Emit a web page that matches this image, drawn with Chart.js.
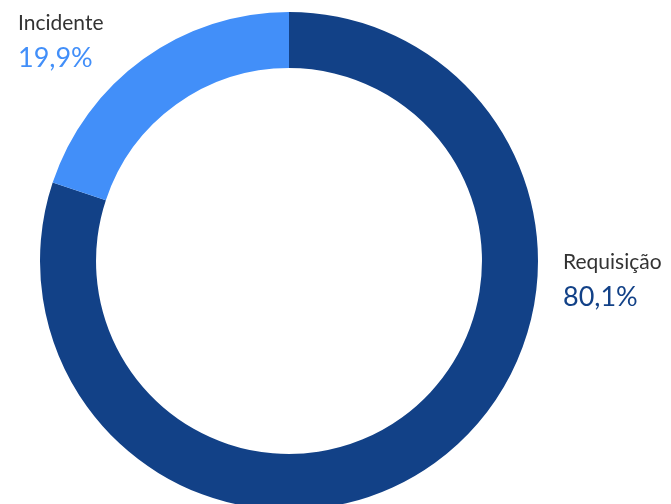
<!DOCTYPE html>
<html>
<head>
<meta charset="utf-8">
<script src="https://cdn.jsdelivr.net/npm/chart.js@4.4.1/dist/chart.umd.min.js"></script>
<style>
  html, body { margin: 0; padding: 0; background: #fff; overflow: hidden; }
  #wrap { position: relative; width: 671px; height: 504px; overflow: hidden; }
  canvas { display: block; }
</style>
</head>
<body>
<div id="wrap"><canvas id="chart" width="671" height="524"></canvas></div>
<script>
/* ------------------------------
   DATA
------------------------------ */
const categories = ["Requisição", "Incidente"];
const shares = [80.1, 19.9];
const shareLabels = ["80,1%", "19,9%"];
const colors = ["#124187", "#428ff9"];

/* ------------------------------
   LABELS PLUGIN
------------------------------ */
const labelSpots = [
  { x: 563, y: 269 },  // Requisição
  { x: 18, y: 30 }     // Incidente
];

const sliceLabels = {
  id: "sliceLabels",
  afterDraw(chart) {
    const c = chart.ctx;
    c.save();
    c.textAlign = "left";
    c.textBaseline = "alphabetic";
    categories.forEach((name, i) => {
      const p = labelSpots[i];
      c.fillStyle = "#333333";
      c.font = "21px Lato, sans-serif";
      c.fillText(name, p.x, p.y);
      c.fillStyle = colors[i];
      c.font = "27px Lato, sans-serif";
      c.fillText(shareLabels[i], p.x, p.y + 37);
    });
    c.restore();
  }
};

/* ------------------------------
   CHART
------------------------------ */
new Chart(document.getElementById("chart"), {
  type: "doughnut",
  data: {
    labels: categories,
    datasets: [{
      data: shares,
      backgroundColor: colors,
      borderWidth: 0
    }]
  },
  options: {
    responsive: false,
    devicePixelRatio: 1,
    animation: false,
    cutout: "77.5%",
    layout: { padding: { top: 12, bottom: 14, left: 40, right: 133 } },
    plugins: {
      legend: { display: false },
      tooltip: { enabled: false }
    }
  },
  plugins: [sliceLabels]
});
</script>
</body>
</html>
